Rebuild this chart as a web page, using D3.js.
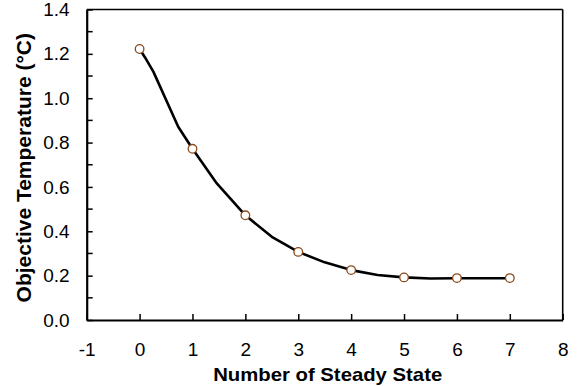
<!DOCTYPE html>
<html><head><meta charset="utf-8">
<script src="https://cdn.jsdelivr.net/npm/d3@7"></script>
<style>body{margin:0;background:#fff}svg{display:block}text{font-family:"Liberation Sans",Arial,sans-serif}</style>
</head><body><svg id="c" width="580" height="386"></svg>
<script>
const stateX = [0, 1, 2, 3, 4, 5, 6, 7];
const markerY = [1.222, 0.772, 0.472, 0.307, 0.225, 0.192, 0.189, 0.189];
const curveX = [0, 0.1, 0.26, 0.73, 1, 1.46, 2, 2.5, 3, 3.5, 4, 4.5, 5, 5.5, 6, 7];
const curveY = [1.222, 1.185, 1.12, 0.871, 0.772, 0.616, 0.472, 0.375, 0.307, 0.26, 0.225, 0.203, 0.192, 0.187, 0.188, 0.188];
const xTicks = [-1, 0, 1, 2, 3, 4, 5, 6, 7, 8];
const yTicks = [0, 0.2, 0.4, 0.6, 0.8, 1.0, 1.2, 1.4];
const yMinor = [0.1, 0.3, 0.5, 0.7, 0.9, 1.1, 1.3];
const xTitle = "Number of Steady State";
const yTitle = "Objective Temperature (°C)";

const L = 86.7, R = 562.7, T = 9.5, B = 320;
const FONT = '"Liberation Sans",Arial,sans-serif';
const svg = d3.select("#c");
const x = d3.scaleLinear().domain([-1, 8]).range([L, R]);
const y = d3.scaleLinear().domain([0, 1.4]).range([B, T]);

// frame top/right
svg.append("line").attr("x1", L).attr("x2", R).attr("y1", T).attr("y2", T).attr("stroke", "#000").attr("stroke-width", 1.6);
svg.append("line").attr("x1", R).attr("x2", R).attr("y1", T).attr("y2", B).attr("stroke", "#000").attr("stroke-width", 1.6);

// x axis
const gx = svg.append("g").attr("transform", `translate(0,${B})`)
  .call(d3.axisBottom(x).tickValues(xTicks).tickFormat(d => String(d)).tickSizeInner(-6).tickSizeOuter(0).tickPadding(23));
gx.select(".domain").attr("stroke-width", 2.2);
gx.selectAll(".tick line").attr("stroke-width", 1.5);
gx.selectAll(".tick text").attr("font-size", 19).attr("fill", "#000").attr("font-family", FONT);

// y axis
const gy = svg.append("g").attr("transform", `translate(${L},0)`)
  .call(d3.axisLeft(y).tickValues(yTicks).tickFormat(d => d.toFixed(1)).tickSizeInner(-6).tickSizeOuter(0).tickPadding(17));
gy.select(".domain").attr("stroke-width", 2.2);
gy.selectAll(".tick line").attr("stroke-width", 1.5);
gy.selectAll(".tick text").attr("font-size", 19).attr("fill", "#000").attr("font-family", FONT);
svg.append("g").selectAll("line").data(yMinor).join("line")
  .attr("x1", L).attr("x2", L + 6).attr("y1", d => y(d)).attr("y2", d => y(d))
  .attr("stroke", "#000").attr("stroke-width", 1.5);

// titles
svg.append("text").attr("x", (L + R) / 2 + 3).attr("y", 381).attr("text-anchor", "middle")
  .attr("font-size", 19).attr("font-weight", "bold").attr("fill", "#000")
  .attr("textLength", 229).attr("lengthAdjust", "spacingAndGlyphs").text(xTitle);
svg.append("text").attr("transform", `translate(31,${(T + B) / 2 + 3}) rotate(-90)`).attr("text-anchor", "middle")
  .attr("font-size", 21).attr("font-weight", "bold").attr("fill", "#000").text(yTitle);

// curve
const pts = curveX.map((d, i) => [d, curveY[i]]);
svg.append("path").datum(pts)
  .attr("d", d3.line().x(d => x(d[0])).y(d => y(d[1])).curve(d3.curveLinear))
  .attr("fill", "none").attr("stroke", "#000").attr("stroke-width", 2.6).attr("stroke-linejoin", "round");

// markers
svg.append("g").selectAll("circle").data(stateX.map((d, i) => [d, markerY[i]])).join("circle")
  .attr("cx", d => x(d[0])).attr("cy", d => y(d[1])).attr("r", 4.3)
  .attr("fill", "#fff").attr("stroke", "#8a4a1c").attr("stroke-width", 1.3);
</script></body></html>
